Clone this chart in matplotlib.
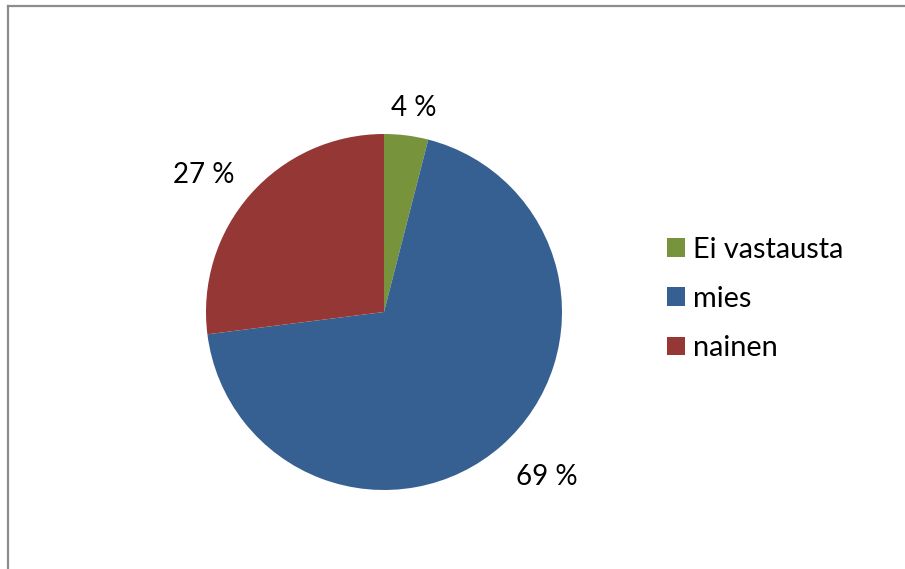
import numpy as np
import matplotlib as mpl
import matplotlib.pyplot as plt
from matplotlib.lines import Line2D

labels = ['Ei vastausta', 'mies', 'nainen']
values = [4, 69, 27]
colors = ['#77933C', '#376092', '#953735']
# label placement: distance from centre (radii) and angle shift (deg)
label_dist = [1.17, 1.29, 1.28]
label_shift = [-1.0, 3.6, 3.7]

mpl.rcParams['font.family'] = ['Lato', 'DejaVu Sans']

W, H = 905, 569
fig = plt.figure(figsize=(W / 100, H / 100), dpi=100)

# pie centred at (384, 312) px, radius 178 px
cx, cy, r = 384, 312, 178
ax = fig.add_axes([(cx - r) / W, (H - cy - r) / H, 2 * r / W, 2 * r / H])

wedges, _ = ax.pie(values, colors=colors, startangle=90, counterclock=False,
                   radius=1, wedgeprops=dict(linewidth=0))
ax.set_xlim(-1, 1)
ax.set_ylim(-1, 1)
ax.set_aspect('equal')
ax.axis('off')

for w, v, d, s in zip(wedges, values, label_dist, label_shift):
    ang = np.deg2rad((w.theta1 + w.theta2) / 2 + s)
    ax.text(d * np.cos(ang), d * np.sin(ang), f'{v} %', ha='center',
            va='center_baseline', fontsize=20, color='black', clip_on=False)

fig.legend(wedges, labels, loc='center left',
           bbox_to_anchor=(667 / W, (H - 299) / H),
           frameon=False, fontsize=20.8, handlelength=0.62, handleheight=0.62,
           handletextpad=0.28, labelspacing=0.8, borderpad=0, borderaxespad=0)

# chart frame (only top and left edges visible)
fig.add_artist(Line2D([8 / W, 8 / W], [0, 1 - 6 / H], color='#8c8c8c', lw=1.6,
                      transform=fig.transFigure))
fig.add_artist(Line2D([8 / W, 1], [1 - 6 / H, 1 - 6 / H], color='#8c8c8c', lw=1.6,
                      transform=fig.transFigure))

plt.savefig('out.png', dpi=100)
